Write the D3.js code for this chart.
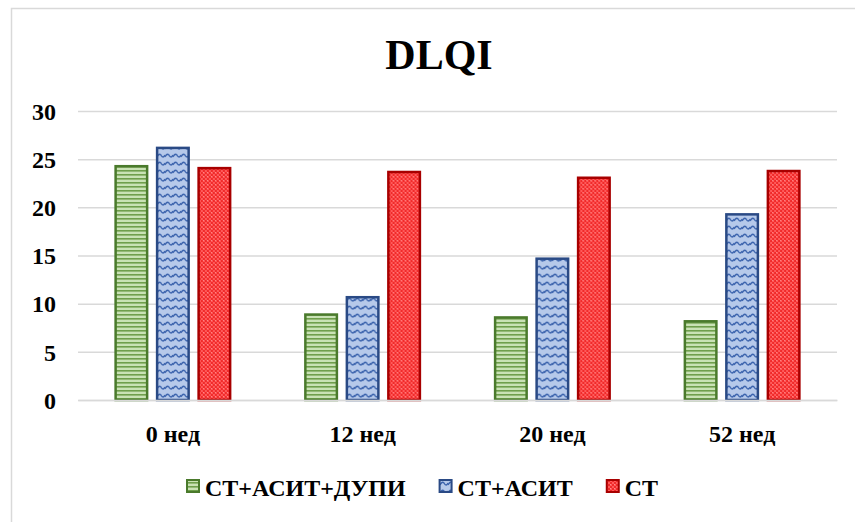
<!DOCTYPE html>
<html>
<head>
<meta charset="utf-8">
<script src="https://cdn.jsdelivr.net/npm/d3@7"></script>
<style>
  html, body { margin: 0; padding: 0; background: #ffffff; }
  svg { display: block; }
</style>
</head>
<body>
<svg id="chart" width="855" height="522"></svg>
<script>
// Weeks of observation
const categories = ["0 нед", "12 нед", "20 нед", "52 нед"];
// Treatment groups
const seriesNames = ["СТ+АСИТ+ДУПИ", "СТ+АСИТ", "СТ"];
// Mean DLQI score per group at each time point
const dupiValues = [24.4, 9.0, 8.7, 8.3];
const asitValues = [26.3, 10.8, 14.8, 19.4];
const stValues   = [24.2, 23.8, 23.2, 23.9];
const yTicks = [0, 5, 10, 15, 20, 25, 30];

const FONT = '"Liberation Serif"';

const seriesValues = [dupiValues, asitValues, stValues];
const rows = categories.map((c, i) => ({
  cat: c,
  vals: seriesNames.map((s, k) => ({ series: s, value: seriesValues[k][i] }))
}));

const svg = d3.select("#chart");
const defs = svg.append("defs");

function styleText(sel, size) {
  sel.attr("font-family", FONT).attr("font-weight", "bold")
    .attr("font-size", size).attr("fill", "#000");
}

// Fill patterns for the three groups
const pGreen = defs.append("pattern").attr("id", "pat-green")
  .attr("patternUnits", "userSpaceOnUse").attr("width", 4).attr("height", 4);
pGreen.append("rect").attr("width", 4).attr("height", 4).attr("fill", "#c9e2b5");
pGreen.append("rect").attr("y", 2).attr("width", 4).attr("height", 1.6).attr("fill", "#6f9f4c");

const pBlue = defs.append("pattern").attr("id", "pat-blue")
  .attr("patternUnits", "userSpaceOnUse").attr("width", 8).attr("height", 8);
pBlue.append("rect").attr("width", 8).attr("height", 8).attr("fill", "#b6c9ea");
pBlue.append("path").attr("d", "M0,5 Q2,1 4,3 Q6,7 8,3")
  .attr("fill", "none").attr("stroke", "#3b63ad").attr("stroke-width", 1.4);

const pRed = defs.append("pattern").attr("id", "pat-red")
  .attr("patternUnits", "userSpaceOnUse").attr("width", 4).attr("height", 4);
pRed.append("rect").attr("width", 4).attr("height", 4).attr("fill", "#ff5a5a");
pRed.append("rect").attr("width", 2).attr("height", 2).attr("fill", "#f02a2a");
pRed.append("rect").attr("x", 2).attr("y", 2).attr("width", 2).attr("height", 2).attr("fill", "#f02a2a");
pRed.append("rect").attr("x", 2).attr("y", 0).attr("width", 1).attr("height", 1).attr("fill", "#ff8a8a");

const fills = { "СТ+АСИТ+ДУПИ": "url(#pat-green)", "СТ+АСИТ": "url(#pat-blue)", "СТ": "url(#pat-red)" };
const strokes = { "СТ+АСИТ+ДУПИ": "#4a7a2c", "СТ+АСИТ": "#2a4a85", "СТ": "#a80000" };

// Outer chart frame
svg.append("rect").attr("x", 11.5).attr("y", 8.5).attr("width", 860).attr("height", 530)
  .attr("fill", "none").attr("stroke", "#d9d9d9").attr("stroke-width", 1.5);

// Title
svg.append("text").attr("x", 439).attr("y", 69).attr("text-anchor", "middle")
  .call(styleText, 42).text("DLQI");

const plotLeft = 78, plotRight = 837, plotTop = 111, plotBottom = 400;

const y = d3.scaleLinear().domain([0, 30]).range([plotBottom, plotTop]);
const x0 = d3.scaleBand().domain(categories).range([plotLeft, plotRight]);
const groupW = 124.5;
const x1 = d3.scaleBand().domain(seriesNames).range([-groupW / 2, groupW / 2])
  .paddingInner(0.18).paddingOuter(0.09);

// Gridlines
const grid = svg.append("g").attr("transform", `translate(${plotLeft},0)`)
  .call(d3.axisLeft(y).tickValues(yTicks).tickSize(-(plotRight - plotLeft)).tickFormat(""));
grid.select(".domain").remove();
grid.selectAll("line").attr("stroke", "#d9d9d9").attr("stroke-width", 1.5);

// Y tick labels
const yAxis = svg.append("g").attr("transform", `translate(56,0)`)
  .call(d3.axisLeft(y).tickValues(yTicks).tickSize(0).tickPadding(0));
yAxis.attr("font-family", FONT);
yAxis.select(".domain").remove();
yAxis.selectAll("text").call(styleText, 24).attr("dy", "0.34em");

// Bars
const sw = 2.5;
const groups = svg.append("g").selectAll("g").data(rows).join("g")
  .attr("transform", d => `translate(${x0(d.cat) + x0.bandwidth() / 2},0)`);
groups.selectAll("rect").data(d => d.vals).join("rect")
  .attr("x", d => x1(d.series) + sw / 2)
  .attr("width", x1.bandwidth() - sw)
  .attr("y", d => y(d.value) + sw / 2)
  .attr("height", d => y(0) - y(d.value) - sw / 2)
  .attr("fill", d => fills[d.series])
  .attr("stroke", d => strokes[d.series])
  .attr("stroke-width", sw);

// X axis line and labels
const xAxis = svg.append("g").attr("transform", `translate(0,${plotBottom})`)
  .call(d3.axisBottom(x0).tickSize(0).tickPadding(0));
xAxis.attr("font-family", FONT);
xAxis.select(".domain").attr("stroke", "#d9d9d9").attr("stroke-width", 1.5);
xAxis.selectAll("text").call(styleText, 24).attr("dy", null).attr("y", 42);

// Legend
const legend = svg.append("g");
let lx = 186;
seriesNames.forEach(s => {
  legend.append("rect").attr("x", lx + 1).attr("y", 480).attr("width", 12).attr("height", 12)
    .attr("fill", fills[s]).attr("stroke", strokes[s]).attr("stroke-width", 2);
  const t = legend.append("text").attr("x", lx + 19).attr("y", 496)
    .call(styleText, 24).text(s);
  lx += 19 + t.node().getComputedTextLength() + 33;
});
</script>
</body>
</html>
